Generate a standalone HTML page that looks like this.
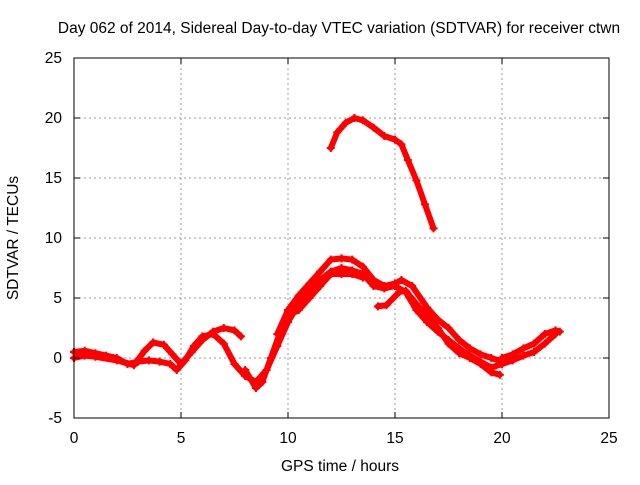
<!DOCTYPE html>
<html><head><meta charset="utf-8"><style>
body{margin:0;background:#fff}
svg text{font-family:"Liberation Sans",sans-serif;font-size:15.5px;fill:#000}
</style></head><body>
<svg id="chart" width="640" height="480" xmlns="http://www.w3.org/2000/svg">
<rect width="640" height="480" fill="#fff"/>
<g id="grid"></g>
<g id="series"></g>
<rect x="74" y="58" width="535" height="360" fill="none" stroke="#000" stroke-width="1"/>
<g id="ticks"></g>
<text x="339" y="33" text-anchor="middle">Day 062 of 2014, Sidereal Day-to-day VTEC variation (SDTVAR) for receiver ctwn</text>
<text x="340" y="471" text-anchor="middle">GPS time / hours</text>
<text x="18" y="238" text-anchor="middle" transform="rotate(-90 18 238)">SDTVAR / TECUs</text>
</svg>
<script>
const xTicks=[0,5,10,15,20,25];
const yTicks=[-5,0,5,10,15,20,25];
const seriesTop=[[12,17.5],[12.3,18.8],[12.7,19.6],[13.1,20],[13.5,19.8],[14,19.2],[14.5,18.5],[15,18.2],[15.3,17.8],[15.6,16.5],[16,14.8],[16.4,12.8],[16.8,10.8]];
const seriesMain=[[0,0.5],[0.5,0.6],[1,0.4],[1.5,0.2],[2,0],[2.5,-0.5],[3,-0.3],[3.5,-0.2],[4,-0.3],[4.5,-0.5],[4.8,-1],[5.2,-0.2],[5.6,1],[6,1.8],[6.5,2],[7,1.2],[7.5,-0.5],[8,-1.5],[8.5,-2],[9,-1],[9.5,1],[10,3],[10.5,4.5],[11,5.5],[11.5,6.5],[12,7.2],[12.5,7.5],[13,7.3],[13.5,7],[14,6],[14.5,5.8],[15,6],[15.5,5.5],[16,4],[16.5,3],[17,2.2],[17.5,1.5],[18,0.8],[18.5,0.2],[19,-0.3],[19.5,-0.8],[20,-0.5],[20.5,-0.2],[21,0.2],[21.5,0.5],[22,1.2],[22.5,2]];
const seriesUpperA=[[0,0],[0.5,0.2],[1,0.1],[2,-0.2],[2.8,-0.6],[3.3,0.6],[3.7,1.3],[4.2,1.1],[4.6,0.3],[5,-0.5],[5.5,0.5],[6,1.5],[6.5,2.2],[7,2.5],[7.5,2.3],[7.8,1.8]];
const seriesUpperB=[[9.5,2],[10,4],[10.5,5.2],[11,6.2],[11.5,7.2],[12,8.2],[12.5,8.3],[13,8.2],[13.5,7.6],[14,6.5],[14.5,6],[15,6.2],[15.3,6.5],[15.8,6],[16.5,4.2],[17,3.2],[17.5,2.5],[18,1.5],[18.5,0.8],[19,0.3],[19.5,0],[20,-0.3]];
const seriesUpperC=[[20,0],[20.5,0.3],[21,0.8],[21.5,1.2],[22,2],[22.5,2.3],[22.7,2.2]];
const seriesLower=[[8,-1],[8.5,-2.5],[8.8,-2],[9.2,0],[9.6,2],[10,3.5],[10.5,4],[11,5],[11.5,6],[12,7],[12.5,7],[13,7],[13.5,6.7]];
const seriesLower2=[[14.2,4.3],[14.6,4.4],[15.2,5.5],[15.5,5.6],[16,4.5],[16.5,3.5],[17,2.5],[17.5,1.2],[18,0.4],[18.5,0],[19,-0.5],[19.5,-1.2],[19.9,-1.4]];
const allSeries=[seriesTop,seriesMain,seriesUpperA,seriesUpperB,seriesUpperC,seriesLower,seriesLower2];
const NS="http://www.w3.org/2000/svg";
const X=v=>74+(v-0)/25*535;
const Y=v=>418-(v+5)/30*360;
const grid=document.getElementById('grid'),ticks=document.getElementById('ticks'),ser=document.getElementById('series');
function mk(tag,attrs,parent){const e=document.createElementNS(NS,tag);for(const k in attrs)e.setAttribute(k,attrs[k]);parent.appendChild(e);return e;}
xTicks.forEach(t=>{
 if(t>0&&t<25){const g=mk('line',{x1:X(t),x2:X(t),y1:58,y2:418,stroke:'#999','stroke-dasharray':'2,3'},grid);}
 const l=mk('text',{x:X(t),y:443,'text-anchor':'middle'},ticks);l.textContent=t;
 
 
 mk('line',{x1:X(t),x2:X(t),y1:418,y2:412,stroke:'#000'},ticks);mk('line',{x1:X(t),x2:X(t),y1:58,y2:64,stroke:'#000'},ticks);
});
yTicks.forEach(t=>{
 if(t>-5&&t<25){const g=mk('line',{x1:74,x2:609,y1:Y(t),y2:Y(t),stroke:'#999','stroke-dasharray':'2,3'},grid);}
 const l=mk('text',{x:62,y:Y(t)+5,'text-anchor':'end'},ticks);l.textContent=t;
 
 
 mk('line',{x1:74,x2:80,y1:Y(t),y2:Y(t),stroke:'#000'},ticks);mk('line',{x1:609,x2:603,y1:Y(t),y2:Y(t),stroke:'#000'},ticks);
});
allSeries.forEach((s,i)=>{
 const p=mk('polyline',{points:s.map(d=>X(d[0])+','+Y(d[1])).join(' '),fill:'none',stroke:'#f00','stroke-width':6,'stroke-linejoin':'round','stroke-linecap':'round'},ser);
 
 
 s.forEach(d=>{const m=mk('path',{d:`M${X(d[0])-4},${Y(d[1])}h8M${X(d[0])},${Y(d[1])-4}v8`,stroke:'#f00','stroke-width':2},ser);
  
  });
});
</script>
</body></html>
